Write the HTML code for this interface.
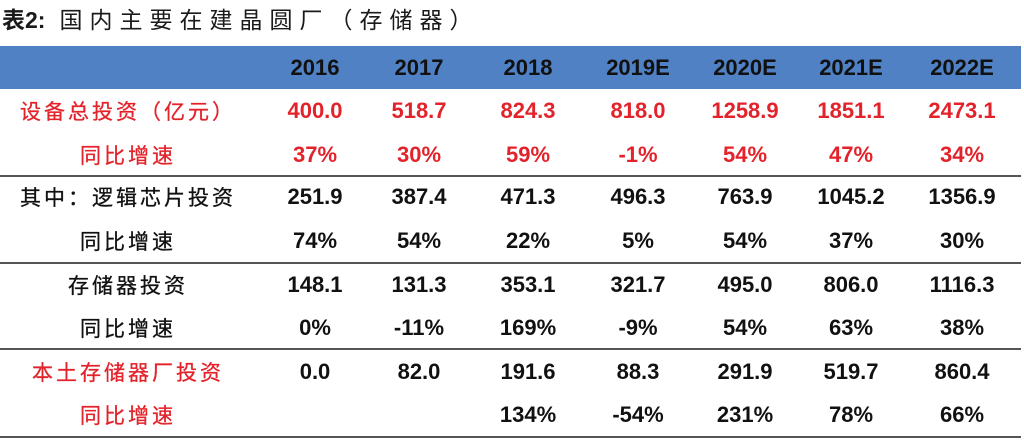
<!DOCTYPE html>
<html><head><meta charset="utf-8">
<style>
body{margin:0;width:1024px;height:444px;background:#fff;position:relative;overflow:hidden;font-family:"Liberation Sans","Noto Sans CJK SC",sans-serif;}
.t{position:absolute;left:2px;top:1px;font-size:23px;color:#1a1a1a;font-family:"Liberation Sans","Noto Sans CJK SC",sans-serif;}
.t b{font-weight:bold}
.t span{letter-spacing:7px;margin-left:14px}
.hdr{position:absolute;left:0;top:46px;width:1021px;height:43px;background:#4f81c4;}
.c{position:absolute;transform:translate(-50%,-50%);white-space:nowrap;font-weight:bold;font-size:22px;color:#111;}
.lab{font-weight:normal;font-size:21px;letter-spacing:3px;-webkit-text-stroke:0.3px currentColor;}
.red{color:#e3232b;}
.ln{position:absolute;left:0;width:1021px;height:2px;background:#555;}
</style></head><body>
<div class="t"><b>表2:</b><span>国内主要在建晶圆厂（存储器）</span></div>
<div class="hdr"></div>
<div class="ln" style="top:175px"></div>
<div class="ln" style="top:262px"></div>
<div class="ln" style="top:348px"></div>
<div class="ln" style="top:436px"></div>
<div id="tbl"></div>
<script>
const years=["2016","2017","2018","2019E","2020E","2021E","2022E"];
const labels=["设备总投资（亿元）","同比增速","其中：逻辑芯片投资","同比增速","存储器投资","同比增速","本土存储器厂投资","同比增速"];
const r0=["400.0","518.7","824.3","818.0","1258.9","1851.1","2473.1"];
const r1=["37%","30%","59%","-1%","54%","47%","34%"];
const r2=["251.9","387.4","471.3","496.3","763.9","1045.2","1356.9"];
const r3=["74%","54%","22%","5%","54%","37%","30%"];
const r4=["148.1","131.3","353.1","321.7","495.0","806.0","1116.3"];
const r5=["0%","-11%","169%","-9%","54%","63%","38%"];
const r6=["0.0","82.0","191.6","88.3","291.9","519.7","860.4"];
const r7=["","","134%","-54%","231%","78%","66%"];
const rows=[r0,r1,r2,r3,r4,r5,r6,r7];
const redRows=[0,1,6,7];
const colX=[315,419,528,638,745,851,962];
const rowY=[111,155,197,241,285,328,372,415];
const tbl=document.getElementById('tbl');
function cell(x,y,txt,cls){
  const d=document.createElement('div');
  d.className='c '+cls;
  d.style.left=x+'px';d.style.top=y+'px';d.textContent=txt;
  tbl.appendChild(d);return d;
}
years.forEach((y,i)=>{
  const d=cell(colX[i],68,y,'');
  
  
});
rows.forEach((r,ri)=>{
  const red=redRows.includes(ri)?'red':'';
  const l=cell(128,rowY[ri],labels[ri],'lab '+red);
  
  
  r.forEach((v,ci)=>{
    if(!v)return;
    const d=cell(colX[ci],rowY[ri],v,(ri<2?'red':''));
    
    
  });
});
</script>
</body></html>
